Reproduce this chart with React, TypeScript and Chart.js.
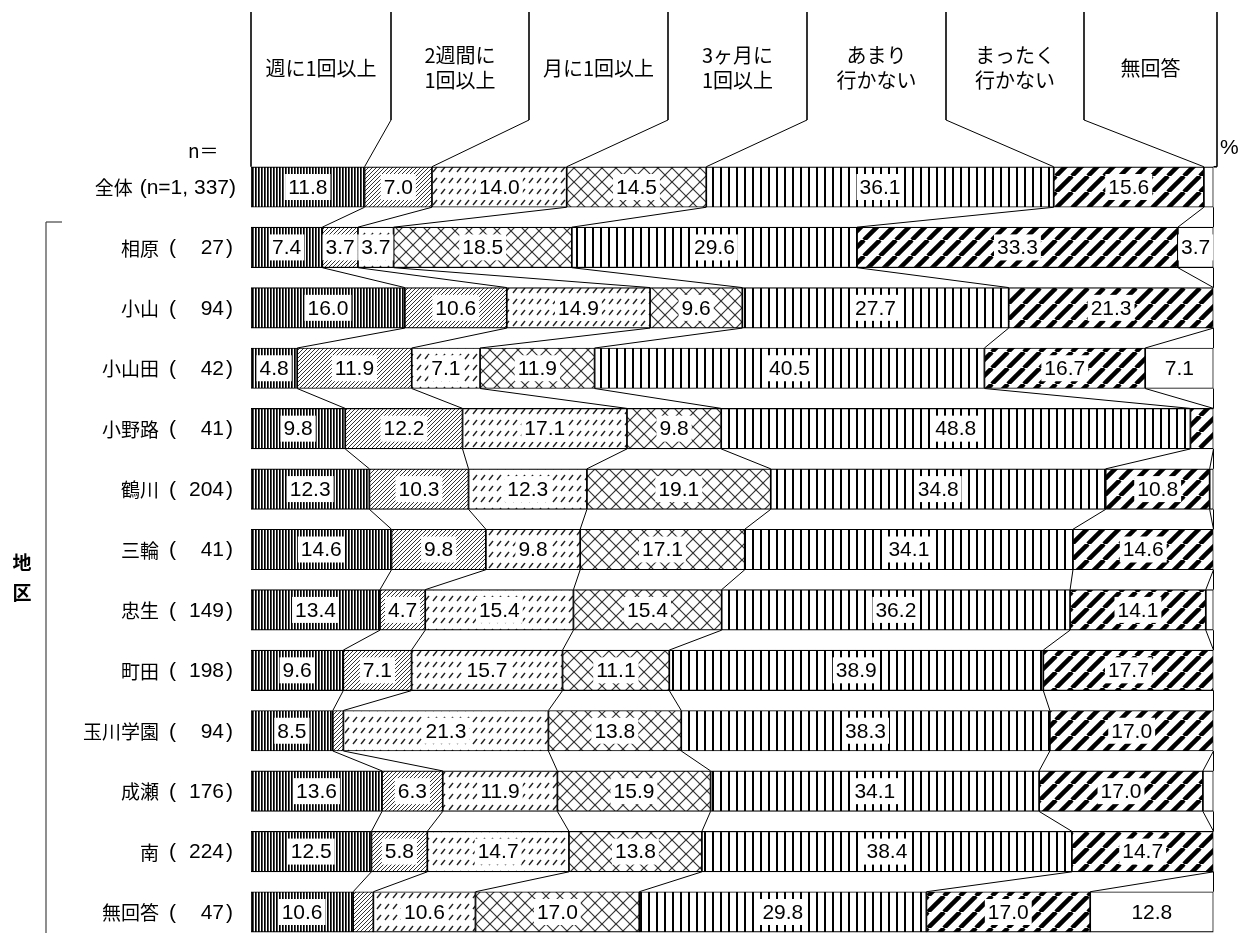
import React, { useEffect, useRef } from 'react';
import { Chart, registerables } from 'chart.js';
Chart.register(...registerables);

// ---- data ----
const categories = ['全体', '相原', '小山', '小山田', '小野路', '鶴川', '三輪', '忠生', '町田', '玉川学園', '成瀬', '南', '無回答'];
const counts = ['n=1, 337', '27', '94', '42', '41', '204', '41', '149', '198', '94', '176', '224', '47'];
const seriesNames = [
  ['週に1回以上'],
  ['2週間に', '1回以上'],
  ['月に1回以上'],
  ['3ヶ月に', '1回以上'],
  ['あまり', '行かない'],
  ['まったく', '行かない'],
  ['無回答'],
];
const weekly = [11.8, 7.4, 16.0, 4.8, 9.8, 12.3, 14.6, 13.4, 9.6, 8.5, 13.6, 12.5, 10.6];
const biweekly = [7.0, 3.7, 10.6, 11.9, 12.2, 10.3, 9.8, 4.7, 7.1, 1.1, 6.3, 5.8, 2.1];
const monthly = [14.0, 3.7, 14.9, 7.1, 17.1, 12.3, 9.8, 15.4, 15.7, 21.3, 11.9, 14.7, 10.6];
const quarterly = [14.5, 18.5, 9.6, 11.9, 9.8, 19.1, 17.1, 15.4, 11.1, 13.8, 15.9, 13.8, 17.0];
const rarely = [36.1, 29.6, 27.7, 40.5, 48.8, 34.8, 34.1, 36.2, 38.9, 38.3, 34.1, 38.4, 29.8];
const never = [15.6, 33.3, 21.3, 16.7, 2.4, 10.8, 14.6, 14.1, 17.7, 17.0, 17.0, 14.7, 17.0];
const noAnswer = [1.0, 3.7, 0, 7.1, 0, 0.4, 0, 0.8, 0, 0, 1.1, 0, 12.8];
const series = [weekly, biweekly, monthly, quarterly, rarely, never, noAnswer];

// ---- layout constants ----
const W = 1249;
const H = 960;
const headerDividers = [251, 391, 529, 668, 807, 946, 1084, 1217];
const headerTop = 12;
const headerBend = 120;
const CJK = '"Noto Sans CJK JP", sans-serif';
const NUM = '"Liberation Sans Narrow", "Arial Narrow", "Liberation Sans", sans-serif';

function makePattern(kind: number): CanvasPattern | string {
  if (kind === 6) return '#ffffff';
  const dims: Record<number, [number, number]> = {
    0: [3, 6], 1: [4, 4], 2: [8, 11], 3: [14, 14], 4: [8, 8], 5: [16, 16],
  };
  const [w, h] = dims[kind];
  const c = document.createElement('canvas');
  c.width = w; c.height = h;
  const ctx = c.getContext('2d')!;
  ctx.fillStyle = '#fff';
  ctx.fillRect(0, 0, w, h);
  if (kind === 0) {
    ctx.fillStyle = '#000';
    ctx.fillRect(0, 0, 1.7, h);
  } else if (kind === 4) {
    ctx.fillStyle = '#000';
    ctx.fillRect(0, 0, 2, h);
  } else if (kind === 1) {
    ctx.strokeStyle = '#333';
    ctx.lineWidth = 1;
    for (const o of [-w, 0, w]) { ctx.beginPath(); ctx.moveTo(o, h); ctx.lineTo(o + w, 0); ctx.stroke(); }
  } else if (kind === 2) {
    ctx.strokeStyle = '#222';
    ctx.lineWidth = 1.4;
    ctx.beginPath(); ctx.moveTo(1, 7); ctx.lineTo(5, 2); ctx.stroke();
  } else if (kind === 3) {
    ctx.strokeStyle = '#333';
    ctx.lineWidth = 1.2;
    for (const o of [-w, 0, w]) {
      ctx.beginPath(); ctx.moveTo(o, h); ctx.lineTo(o + w, 0); ctx.stroke();
      ctx.beginPath(); ctx.moveTo(o, 0); ctx.lineTo(o + w, h); ctx.stroke();
    }
  } else if (kind === 5) {
    ctx.strokeStyle = '#000';
    ctx.lineWidth = 4.5;
    for (const o of [-w, 0, w]) { ctx.beginPath(); ctx.moveTo(o, h); ctx.lineTo(o + w, 0); ctx.stroke(); }
  }
  return ctx.createPattern(c, 'repeat')!;
}

const overlay = {
  id: 'overlay',
  beforeDatasetsDraw(chart: any) {
    const ctx: CanvasRenderingContext2D = chart.ctx;
    const area = chart.chartArea;
    const metas = series.map((_, k) => chart.getDatasetMeta(k));
    const bar = (k: number, i: number) => metas[k].data[i] as any;
    const line = (x1: number, y1: number, x2: number, y2: number) => {
      ctx.beginPath(); ctx.moveTo(x1, y1); ctx.lineTo(x2, y2); ctx.stroke();
    };
    ctx.save();
    // connector lines between rows
    ctx.strokeStyle = '#000';
    ctx.lineWidth = 1;
    for (let i = 0; i < categories.length - 1; i++) {
      for (let k = 0; k < series.length; k++) {
        const a = bar(k, i), b = bar(k, i + 1);
        line(a.x, a.y + a.height / 2, b.x, b.y - b.height / 2);
      }
    }
    // header boxes
    const b0 = bar(0, 0);
    const top0 = b0.y - b0.height / 2;
    ctx.lineWidth = 1.6;
    line(area.left, headerTop, area.left, top0);
    for (let j = 1; j < 7; j++) {
      ctx.lineWidth = 1.6;
      line(headerDividers[j], headerTop, headerDividers[j], headerBend);
      ctx.lineWidth = 1;
      line(headerDividers[j], headerBend, bar(j - 1, 0).x, top0);
    }
    ctx.lineWidth = 1.6;
    line(headerDividers[7], headerTop, headerDividers[7], top0);
    line(headerDividers[7], top0, bar(6, 0).x, top0);
    // header texts
    ctx.fillStyle = '#000';
    ctx.font = `20px ${CJK}`;
    ctx.textAlign = 'center';
    ctx.textBaseline = 'middle';
    seriesNames.forEach((lines, j) => {
      const cx = (headerDividers[j] + headerDividers[j + 1]) / 2;
      if (lines.length === 1) ctx.fillText(lines[0], cx, 68);
      else { ctx.fillText(lines[0], cx, 55); ctx.fillText(lines[1], cx, 80); }
    });
    // n= and %
    ctx.font = `19px ${CJK}`;
    ctx.textAlign = 'left';
    ctx.fillText('n＝', 188, 151);
    ctx.font = `21px ${NUM}`;
    ctx.fillText('%', 1220, 148);
    // row labels
    categories.forEach((name, i) => {
      const y = bar(0, i).y + 1;
      if (i === 0) {
        ctx.font = `21px ${NUM}`;
        ctx.textAlign = 'right';
        const t = `(${counts[i]})`;
        const tw = ctx.measureText(t).width;
        ctx.fillText(t, 236, y);
        ctx.font = `19px ${CJK}`;
        ctx.fillText(name, 236 - tw - 7, y);
      } else {
        ctx.font = `19px ${CJK}`;
        ctx.textAlign = 'right';
        ctx.fillText(name, 159, y);
        ctx.font = `21px ${NUM}`;
        ctx.textAlign = 'left';
        ctx.fillText('(', 169, y);
        ctx.textAlign = 'right';
        ctx.fillText(counts[i], 224, y);
        ctx.textAlign = 'left';
        ctx.fillText(')', 226, y);
      }
    });
    // region bracket & label
    ctx.lineWidth = 1.2;
    ctx.strokeStyle = '#444';
    line(46, 222, 46, H);
    line(46, 222, 62, 222);
    ctx.font = `bold 19px ${CJK}`;
    ctx.textAlign = 'center';
    ctx.fillText('地', 22, 563);
    ctx.fillText('区', 22, 593);
    ctx.restore();
  },
  afterDatasetsDraw(chart: any) {
    const ctx: CanvasRenderingContext2D = chart.ctx;
    ctx.save();
    ctx.font = `21px ${NUM}`;
    ctx.textAlign = 'center';
    ctx.textBaseline = 'middle';
    series.forEach((arr, k) => {
      const meta = chart.getDatasetMeta(k);
      arr.forEach((v, i) => {
        if (v < 3) return;
        const el = meta.data[i] as any;
        const cx = (el.x + el.base) / 2;
        const cy = el.y;
        const txt = v.toFixed(1);
        const w = ctx.measureText(txt).width;
        ctx.fillStyle = '#fff';
        ctx.fillRect(cx - w / 2 - 3, cy - 13, w + 6, 26);
        ctx.fillStyle = '#000';
        ctx.fillText(txt, cx, cy + 1);
      });
    });
    ctx.restore();
  },
};

export default function App() {
  const ref = useRef<HTMLCanvasElement>(null);
  useEffect(() => {
    if (!ref.current) return;
    const rowSums = categories.map((_, i) => series.reduce((s, arr) => s + arr[i], 0));
    const chart = new Chart(ref.current, {
      type: 'bar',
      data: {
        labels: categories,
        datasets: series.map((arr, k) => ({
          label: seriesNames[k].join(''),
          data: arr.map((v, i) => (v / rowSums[i]) * 100),
          backgroundColor: makePattern(k) as any,
          borderColor: '#000',
          borderWidth: 1.2,
          borderSkipped: false,
          barThickness: 40.5,
        })),
      },
      options: {
        indexAxis: 'y',
        animation: false,
        responsive: false,
        devicePixelRatio: 1,
        layout: { padding: { left: 251, right: W - 1213.5, top: 156.8, bottom: H - 942.2 } },
        scales: {
          x: { stacked: true, min: 0, max: 100, display: false },
          y: { stacked: true, display: false },
        },
        plugins: { legend: { display: false }, tooltip: { enabled: false } },
      },
      plugins: [overlay],
    });
    return () => chart.destroy();
  }, []);
  return (
    <div style={{ position: 'fixed', left: 0, top: 0, width: W, height: H, background: '#fff' }}>
      <canvas ref={ref} width={W} height={H} style={{ width: W, height: H, display: 'block' }} />
    </div>
  );
}
